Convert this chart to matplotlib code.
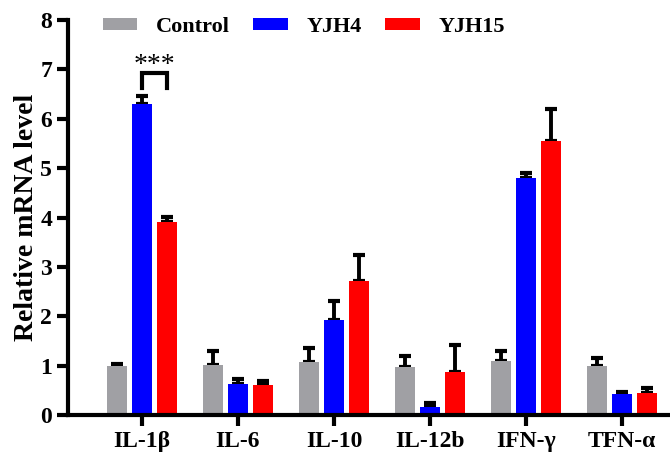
import numpy as np
import matplotlib
matplotlib.use("Agg")
import matplotlib.pyplot as plt

plt.rcParams["font.family"] = ["Liberation Serif", "DejaVu Serif"]
plt.rcParams["font.weight"] = "bold"

genes = ["IL-1β", "IL-6", "IL-10", "IL-12b", "IFN-γ", "TFN-α"]
groups = ["Control", "YJH4", "YJH15"]
control = [1.0, 1.02, 1.08, 0.98, 1.10, 1.00]
control_err = [0.03, 0.28, 0.28, 0.22, 0.20, 0.15]
yjh4 = [6.30, 0.63, 1.93, 0.17, 4.80, 0.42]
yjh4_err = [0.17, 0.10, 0.37, 0.08, 0.10, 0.04]
yjh15 = [3.90, 0.60, 2.72, 0.87, 5.55, 0.44]
yjh15_err = [0.12, 0.09, 0.53, 0.55, 0.65, 0.11]
colors = ["#a0a0a4", "#0000ff", "#ff0000"]

fig = plt.figure(figsize=(6.7, 4.66), dpi=100)
ax = fig.add_axes([0.1015, 0.1094, 0.8985, 0.8476])

x = np.arange(len(genes))
w = 0.21
step = 0.26
series = [(control, control_err), (yjh4, yjh4_err), (yjh15, yjh15_err)]
for i, (vals, errs) in enumerate(series):
    pos = x + (i - 1) * step
    ax.bar(pos, vals, width=w, color=colors[i], label=groups[i], zorder=2)
    # error bars drawn under the bars so only the upper half shows
    ax.errorbar(pos, vals, yerr=[np.zeros(len(vals)), errs], fmt="none",
                ecolor="black", elinewidth=2.8, capsize=4.5, capthick=3, zorder=1)

# significance bracket IL-1b YJH4 vs YJH15
x1, x2 = x[0], x[0] + step
ax.plot([x1, x1, x2, x2], [6.62, 6.92, 6.92, 6.62], color="black", lw=3,
        solid_joinstyle="miter", zorder=3)
ax.text((x1 + x2) / 2, 6.82, "***", ha="center", va="bottom", fontsize=20,
        fontweight="normal")

ax.set_xlim(-0.77, 5.5)
ax.set_ylim(0, 8)
ax.set_yticks(range(0, 9))
ax.set_xticks(x)
ax.set_xticklabels(genes)
ax.set_ylabel("Relative mRNA level", fontsize=20, fontweight="bold", labelpad=1)
ax.tick_params(axis="both", width=3, length=8, labelsize=17)
for s in ["top", "right"]:
    ax.spines[s].set_visible(False)
for s in ["left", "bottom"]:
    ax.spines[s].set_linewidth(3)

leg = ax.legend(loc="center left", bbox_to_anchor=(0.058, 0.982), ncol=3,
                frameon=False, fontsize=16, handlelength=1.55, handleheight=0.45,
                columnspacing=1.05, handletextpad=0.85, borderpad=0, borderaxespad=0)

fig.savefig("out.png", dpi=100)
